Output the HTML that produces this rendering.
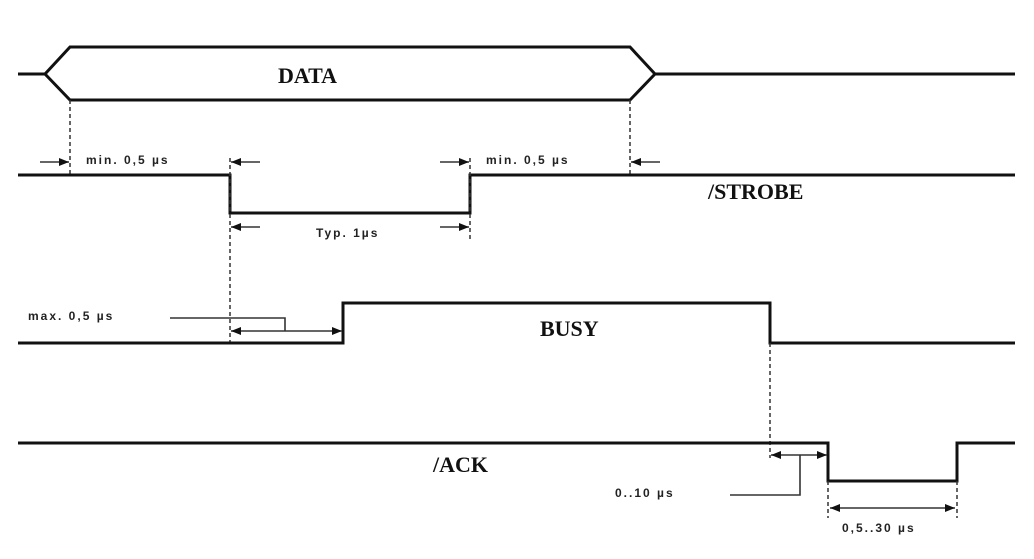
<!DOCTYPE html>
<html><head><meta charset="utf-8"><style>
html,body{margin:0;padding:0;background:#fff;width:1034px;height:559px;overflow:hidden}
svg{display:block}
.s{fill:none;stroke:#111;stroke-width:3}
.t{fill:none;stroke:#333;stroke-width:1.6}
.d{fill:none;stroke:#333;stroke-width:1.5;stroke-dasharray:4 3}
.sm{font-family:"Liberation Sans",sans-serif;font-size:12px;fill:#222;font-weight:bold;letter-spacing:2px}
.lb{font-family:"Liberation Serif",serif;font-size:22px;font-weight:bold;fill:#111}
</style></head><body>
<svg width="1034" height="559" viewBox="0 0 1034 559">
<defs>
<marker id="a" viewBox="0 0 10 10" refX="10" refY="5" markerWidth="10" markerHeight="10" markerUnits="userSpaceOnUse" orient="auto"><path d="M0,1 L10,5 L0,9 z" fill="#111"/></marker>
</defs>
<path class="s" d="M18,74 H45 L70,47 H630 L655,74 H1015"/>
<path class="s" d="M45,74 L70,100 H630 L655,74"/>
<text class="lb" x="278" y="83">DATA</text>
<path class="d" d="M70,100 V175 M630,100 V175"/>
<path class="s" d="M18,175 H230 V213 H470 V175 H1015"/>
<path class="d" d="M230,158 V345 M470,158 V240"/>
<path class="t" d="M40,162 H69" marker-end="url(#a)"/>
<path class="t" d="M260,162 H231" marker-end="url(#a)"/>
<path class="t" d="M440,162 H469" marker-end="url(#a)"/>
<path class="t" d="M660,162 H631" marker-end="url(#a)"/>
<text class="sm" x="86" y="164">min. 0,5 µs</text>
<text class="sm" x="486" y="164">min. 0,5 µs</text>
<path class="t" d="M260,227 H231" marker-end="url(#a)"/>
<path class="t" d="M440,227 H469" marker-end="url(#a)"/>
<text class="sm" x="316" y="237">Typ. 1µs</text>
<text class="lb" x="708" y="199">/STROBE</text>
<path class="s" d="M18,343 H343 V303 H770 V343 H1015"/>
<text class="lb" x="540" y="336">BUSY</text>
<text class="sm" x="28" y="320">max. 0,5 µs</text>
<path class="t" d="M170,318 H285 V331"/>
<path class="t" d="M285,331 H231" marker-end="url(#a)"/>
<path class="t" d="M285,331 H342" marker-end="url(#a)"/>
<path class="d" d="M770,343 V458"/>
<path class="s" d="M18,443 H828 V481 H957 V443 H1015"/>
<text class="lb" x="433" y="472">/ACK</text>
<path class="t" d="M800,455 H771" marker-end="url(#a)"/>
<path class="t" d="M800,455 H827" marker-end="url(#a)"/>
<path class="t" d="M800,455 V495 H730"/>
<text class="sm" x="615" y="497">0..10 µs</text>
<path class="d" d="M828,481 V518 M957,481 V518"/>
<path class="t" d="M890,508 H830" marker-end="url(#a)"/>
<path class="t" d="M890,508 H955" marker-end="url(#a)"/>
<text class="sm" x="842" y="532">0,5..30 µs</text>
</svg>
</body></html>
